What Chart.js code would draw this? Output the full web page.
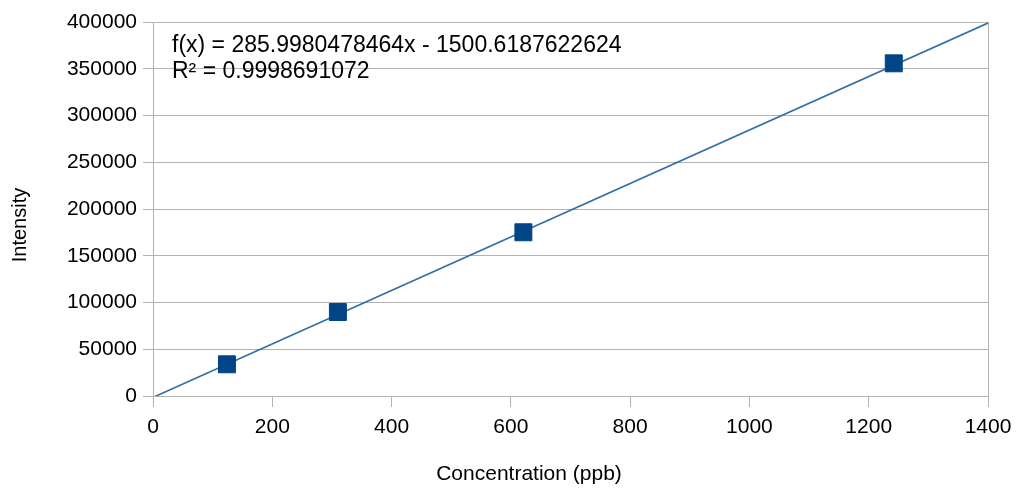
<!DOCTYPE html>
<html>
<head>
<meta charset="utf-8">
<script src="https://cdn.jsdelivr.net/npm/chart.js@4/dist/chart.umd.min.js"></script>
<style>
  html, body { margin: 0; padding: 0; background: #ffffff; }
  #wrap { position: relative; width: 1016px; height: 488px; }
</style>
</head>
<body>
<div id="wrap"><canvas id="c"></canvas></div>
<script>
// ---- data ----
const concentrations = [124, 310, 621, 1242];          // ppb
const intensities    = [33900, 89800, 175100, 355800];
const trendX = [0, 1400];
const trendY = [-1500.6, 398897.1];                    // endpoints of f(x) = 285.998x - 1500.62
const xTicks = [0, 200, 400, 600, 800, 1000, 1200, 1400];
const yTicks = [0, 50000, 100000, 150000, 200000, 250000, 300000, 350000, 400000];
const equationText = 'f(x) = 285.9980478464x - 1500.6187622624';
const r2Text = 'R\u00B2 = 0.9998691072';
const xTitle = 'Concentration (ppb)';
const yTitle = 'Intensity';

const FONT = '"Liberation Sans", Arial, sans-serif';
const GRID = '#b3b3b3';

const points = concentrations.map((x, i) => ({ x: x, y: intensities[i] }));
const trend = trendX.map((x, i) => ({ x: x, y: trendY[i] }));

const textPlugin = {
  id: 'texts',
  afterDraw(chart) {
    const ctx = chart.ctx;
    ctx.save();
    ctx.fillStyle = '#000000';
    ctx.textBaseline = 'middle';
    ctx.textAlign = 'left';
    ctx.font = '23px ' + FONT;
    ctx.fillText(equationText, 172, 46);
    ctx.fillText(r2Text, 172, 72);
    ctx.font = '21px ' + FONT;
    ctx.textAlign = 'center';
    ctx.fillText(xTitle, 529, 474);
    ctx.translate(20, 225);
    ctx.rotate(-Math.PI / 2);
    ctx.font = '20px ' + FONT;
    ctx.fillText(yTitle, 0, 0);
    ctx.restore();
  }
};

new Chart(document.getElementById('c'), {
  type: 'scatter',
  data: {
    datasets: [
      {
        label: 'Data',
        data: points,
        showLine: false,
        pointStyle: 'rect',
        pointRadius: 12,
        pointHoverRadius: 12,
        backgroundColor: '#004586',
        borderColor: '#004586',
        borderWidth: 1,
        order: 0
      },
      {
        label: 'Trend',
        data: trend,
        showLine: true,
        pointRadius: 0,
        borderColor: '#2f6ea6',
        borderWidth: 1.6,
        fill: false,
        order: 1
      }
    ]
  },
  options: {
    responsive: true,
    maintainAspectRatio: false,
    animation: false,
    events: [],
    layout: { padding: { left: 0, top: 22, right: 28, bottom: 0 } },
    plugins: {
      legend: { display: false },
      tooltip: { enabled: false }
    },
    scales: {
      x: {
        type: 'linear',
        min: xTicks[0],
        max: xTicks[xTicks.length - 1],
        afterBuildTicks(scale) { scale.ticks = xTicks.map(v => ({ value: v })); },
        afterFit(scale) { scale.height = 92; scale.paddingLeft = 0; scale.paddingRight = 0; },
        border: { display: true, color: GRID, width: 1 },
        grid: {
          drawOnChartArea: true,
          color: (ctx) => (ctx.tick && ctx.tick.value === 1400 ? GRID : 'rgba(0,0,0,0)'),
          tickColor: GRID,
          tickLength: 11,
          lineWidth: 1
        },
        ticks: {
          color: '#000000',
          padding: 8,
          maxRotation: 0,
          autoSkip: false,
          font: { family: FONT, size: 21 },
          callback: (v) => String(v)
        }
      },
      y: {
        type: 'linear',
        min: yTicks[0],
        max: yTicks[yTicks.length - 1],
        afterBuildTicks(scale) { scale.ticks = yTicks.map(v => ({ value: v })); },
        afterFit(scale) { scale.width = 153; scale.paddingTop = 0; scale.paddingBottom = 0; },
        border: { display: true, color: GRID, width: 1 },
        grid: {
          drawOnChartArea: true,
          color: GRID,
          tickColor: GRID,
          tickLength: 10,
          lineWidth: 1
        },
        ticks: {
          color: '#000000',
          padding: 6,
          autoSkip: false,
          font: { family: FONT, size: 21 },
          callback: (v) => String(v)
        }
      }
    }
  },
  plugins: [textPlugin]
});
</script>
</body>
</html>
